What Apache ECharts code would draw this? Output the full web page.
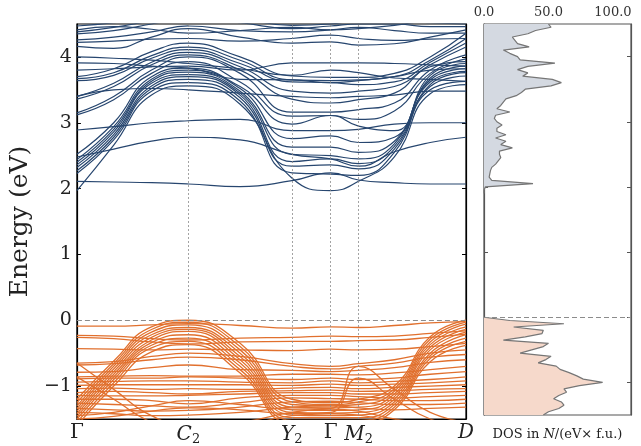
<!DOCTYPE html>
<html>
<head>
<meta charset="utf-8">
<script src="https://cdn.jsdelivr.net/npm/echarts@6/dist/echarts.min.js"></script>
<style>
  html, body { margin: 0; padding: 0; background: #fff; }
  #band-dos { width: 641px; height: 446px; }
</style>
</head>
<body>
<div id="band-dos"></div>
<script>
// k-path sample positions (path length units) and the high-symmetry points
let kPoints = [0, 0.37, 0.75, 1.12, 1.64, 2.16, 2.55, 2.83, 3.19, 3.55, 3.91];
let kTicks = [0, 1.12, 2.16, 2.55, 2.83, 3.91];
let kLabels = ['Γ', 'C_2', 'Y_2', 'Γ', 'M_2', 'D'];
let energyTicks = [-1, 0, 1, 2, 3, 4];
let dosTicks = [0, 50, 100];

// conduction bands, energy (eV) at each kPoints entry
let conductionBands = [
  [1.97, 2.66, 3.42, 3.56, 3.28, 2.16, 1.97, 2.11, 2.48, 3.44, 3.58],
  [2.11, 2.10, 2.09, 2.07, 2.03, 2.12, 2.24, 2.13, 2.09, 2.07, 2.07],
  [2.23, 2.74, 3.48, 3.61, 3.33, 2.24, 2.22, 2.20, 2.55, 3.50, 3.63],
  [2.27, 2.78, 3.52, 3.66, 3.38, 2.34, 2.36, 2.30, 2.60, 3.55, 3.71],
  [2.32, 2.82, 3.56, 3.70, 3.42, 2.41, 2.45, 2.38, 2.64, 3.58, 3.76],
  [2.36, 2.86, 3.60, 3.73, 3.45, 2.52, 2.50, 2.45, 2.68, 3.62, 3.78],
  [2.40, 2.90, 3.63, 3.77, 3.48, 2.63, 2.63, 2.55, 2.72, 3.65, 3.82],
  [2.44, 2.94, 3.66, 3.80, 3.52, 2.76, 2.80, 2.70, 2.78, 3.68, 3.86],
  [2.48, 2.60, 2.72, 2.78, 2.74, 2.52, 2.45, 2.34, 2.56, 2.70, 2.78],
  [2.89, 2.94, 3.00, 3.03, 3.05, 2.88, 2.88, 2.90, 2.98, 3.00, 3.00],
  [2.52, 3.00, 3.70, 3.83, 3.55, 2.98, 3.11, 2.95, 2.88, 3.72, 3.90],
  [3.12, 3.35, 3.75, 3.93, 3.62, 3.10, 3.11, 3.05, 3.18, 3.75, 3.97],
  [3.15, 3.40, 3.80, 4.00, 3.75, 3.16, 3.16, 3.20, 3.30, 3.80, 4.03],
  [3.36, 3.55, 3.88, 4.03, 3.80, 3.36, 3.30, 3.35, 3.45, 3.85, 3.93],
  [3.40, 3.60, 3.92, 4.07, 3.85, 3.48, 3.45, 3.48, 3.55, 3.88, 4.15],
  [3.64, 3.72, 3.98, 4.11, 3.90, 3.62, 3.61, 3.58, 3.62, 3.92, 4.21],
  [3.67, 3.76, 4.02, 4.15, 3.95, 3.65, 3.64, 3.65, 3.70, 3.95, 4.28],
  [3.70, 3.82, 4.08, 4.21, 4.00, 3.71, 3.69, 3.69, 3.75, 4.00, 4.36],
  [3.80, 3.82, 3.85, 3.86, 3.80, 3.91, 3.91, 3.91, 3.90, 3.88, 3.86],
  [3.91, 3.90, 3.86, 3.83, 3.66, 3.65, 3.61, 3.64, 3.70, 3.80, 3.82],
  [4.00, 3.98, 3.95, 3.90, 3.82, 3.72, 3.80, 3.76, 3.68, 3.66, 3.63],
  [4.16, 4.13, 4.30, 4.43, 4.30, 4.21, 4.23, 4.18, 4.20, 4.30, 4.41],
  [4.22, 4.24, 4.27, 4.28, 4.24, 4.28, 4.33, 4.28, 4.25, 4.27, 4.28],
  [4.26, 4.30, 4.38, 4.47, 4.40, 4.38, 4.41, 4.45, 4.40, 4.36, 4.36],
  [4.35, 4.40, 4.50, 4.60, 4.52, 4.43, 4.47, 4.50, 4.50, 4.46, 4.46],
  [4.38, 4.45, 4.55, 4.65, 4.58, 4.48, 4.50, 4.55, 4.55, 4.52, 4.50],
  [4.41, 4.46, 4.42, 4.36, 4.40, 4.45, 4.41, 4.43, 4.48, 4.56, 4.60],
  [4.47, 4.52, 4.60, 4.65, 4.60, 4.55, 4.52, 4.56, 4.60, 4.65, 4.70],
  [3.40, 3.50, 3.52, 3.50, 3.45, 3.40, 3.38, 3.40, 3.42, 3.48, 3.48]
];

// valence bands
let valenceBands = [
  [-0.09, -0.09, -0.07, -0.05, -0.08, -0.12, -0.10, -0.11, -0.08, -0.04, -0.02],
  [-1.20, -0.62, -0.10, 0.00, -0.35, -1.20, -1.25, -1.20, -1.00, -0.25, 0.00],
  [-1.25, -0.66, -0.14, -0.03, -0.40, -1.24, -1.28, -1.24, -1.04, -0.29, -0.03],
  [-1.30, -0.70, -0.18, -0.07, -0.45, -1.28, -1.30, -1.28, -1.08, -0.33, -0.06],
  [-1.34, -0.74, -0.22, -0.11, -0.50, -1.32, -1.33, -1.32, -1.12, -0.37, -0.10],
  [-1.38, -0.78, -0.26, -0.14, -0.55, -1.36, -1.37, -1.36, -1.16, -0.41, -0.14],
  [-1.42, -0.82, -0.30, -0.17, -0.60, -1.40, -1.41, -1.40, -1.20, -0.45, -0.18],
  [-1.46, -0.86, -0.34, -0.22, -0.65, -1.44, -1.45, -1.44, -1.24, -0.50, -0.22],
  [-1.50, -0.90, -0.38, -0.27, -0.70, -1.48, -1.48, -1.48, -1.28, -0.54, -0.27],
  [-1.55, -0.95, -0.42, -0.32, -0.75, -1.52, -1.52, -1.52, -1.32, -0.58, -0.32],
  [-1.60, -1.00, -0.48, -0.37, -0.80, -1.56, -1.56, -1.56, -1.36, -0.63, -0.38],
  [-0.23, -0.24, -0.28, -0.30, -0.27, -0.26, -0.24, -0.25, -0.24, -0.20, -0.16],
  [-0.26, -0.28, -0.33, -0.36, -0.33, -0.32, -0.32, -0.31, -0.30, -0.26, -0.21],
  [-0.43, -0.44, -0.45, -0.44, -0.45, -0.46, -0.44, -0.45, -0.44, -0.40, -0.35],
  [-0.65, -0.63, -0.55, -0.50, -0.55, -0.66, -0.70, -0.66, -0.60, -0.50, -0.45],
  [-0.68, -0.66, -0.60, -0.56, -0.60, -0.70, -0.74, -0.70, -0.65, -0.56, -0.52],
  [-0.79, -0.78, -0.72, -0.68, -0.75, -0.76, -0.78, -0.76, -0.72, -0.64, -0.60],
  [-0.86, -0.85, -0.84, -0.85, -0.85, -0.82, -0.82, -0.83, -0.80, -0.75, -0.70],
  [-0.89, -0.88, -0.88, -0.86, -0.88, -0.90, -0.88, -0.90, -0.88, -0.82, -0.78],
  [-0.94, -0.93, -0.92, -0.92, -0.94, -0.95, -0.92, -0.95, -0.93, -0.90, -0.86],
  [-0.99, -0.98, -0.98, -0.98, -0.98, -0.99, -0.97, -0.99, -0.97, -0.95, -0.92],
  [-1.04, -1.03, -1.05, -1.04, -1.05, -1.03, -1.02, -1.04, -1.02, -1.00, -0.98],
  [-1.10, -1.08, -1.10, -1.12, -1.08, -1.07, -1.06, -1.08, -1.07, -1.05, -1.04],
  [-1.14, -1.15, -1.15, -1.14, -1.12, -1.10, -1.10, -1.12, -1.12, -1.10, -1.08],
  [-1.20, -1.20, -1.22, -1.27, -1.18, -1.14, -1.14, -1.16, -1.18, -1.16, -1.14],
  [-1.26, -1.28, -1.30, -1.32, -1.25, -1.18, -1.19, -1.20, -1.22, -1.22, -1.20],
  [-1.34, -1.36, -1.38, -1.37, -1.32, -1.24, -1.23, -1.25, -1.28, -1.28, -1.26],
  [-1.40, -1.42, -1.45, -1.44, -1.40, -1.32, -1.30, -1.33, -1.36, -1.34, -1.32],
  [-0.65, -1.05, -1.45, -1.60, -1.55, -1.40, -1.35, -1.38, -1.50, -1.55, -1.55],
  [-0.86, -1.20, -1.55, -1.70, -1.62, -1.45, -1.42, -1.44, -1.55, -1.62, -1.62],
  [-1.45, -1.40, -1.30, -1.22, -1.28, -1.35, -1.34, -0.70, -1.05, -1.40, -1.55],
  [-1.50, -1.46, -1.38, -1.33, -1.36, -1.42, -1.40, -0.88, -1.20, -1.50, -1.62]
];

// DOS on a 0.05 eV grid: valence from -1.50 to 0.00, conduction from 1.90 to 4.50
let dosValence = [46, 50, 58, 62, 60, 54, 58, 64, 62, 74, 92, 77, 72, 66, 59, 56,
  42, 48, 52, 28, 37, 46, 50, 15, 32, 45, 46, 23, 62, 20, 0];
let dosConduction = [0, 0, 1, 38, 6, 4, 4.5, 5, 6, 9, 11, 13, 12, 12, 22, 13, 17, 9,
  17, 10, 10, 14, 10, 8, 9, 20, 10, 13, 15, 17, 25, 29, 32, 52, 60, 53, 30, 34, 26,
  34, 55, 28, 26, 20, 15, 35, 26, 24, 22, 34, 40, 52, 50];

let dosEnergies = [];
for (let i = 0; i <= 120; i++) {
  dosEnergies.push(((-150 + i * 5) / 100).toFixed(2));
}
let condStart = dosEnergies.indexOf('1.90');

let serif = 'DejaVu Serif';
let myChart = echarts.init(document.getElementById('band-dos'));

function bandSeries(bands, color, width) {
  return bands.map(function (band) {
    return {
      type: 'line',
      xAxisIndex: 0,
      yAxisIndex: 0,
      data: band.map(function (e, i) { return [kPoints[i], e]; }),
      smooth: 0.5,
      symbol: 'none',
      silent: true,
      lineStyle: { color: color, width: width }
    };
  });
}

let series = [];
// guide lines first so the bands sit on top
series.push({
  type: 'line',
  xAxisIndex: 0,
  yAxisIndex: 0,
  data: [],
  silent: true,
  markLine: {
    symbol: 'none',
    silent: true,
    animation: false,
    label: { show: false },
    data: kTicks.slice(1, 5).map(function (k) {
      return { xAxis: k, lineStyle: { color: '#8c8c8c', type: [2, 2], width: 0.8 } };
    }).concat([{ yAxis: 0, lineStyle: { color: '#8c8c8c', type: [5, 3], width: 1 } }])
  }
});
series = series.concat(bandSeries(conductionBands, '#27466f', 1.2));
series = series.concat(bandSeries(valenceBands, '#e1702e', 1.3));

series.push({
  type: 'line',
  xAxisIndex: 1,
  yAxisIndex: 2,
  data: dosEnergies.map(function (e, i) { return i < dosValence.length ? dosValence[i] : null; }),
  symbol: 'none',
  silent: true,
  lineStyle: { color: '#767676', width: 1.2 },
  areaStyle: { color: '#f6d9cb', opacity: 1 },
  markLine: {
    symbol: 'none',
    silent: true,
    label: { show: false },
    data: [{ yAxis: '0.00', lineStyle: { color: '#8c8c8c', type: [5, 3], width: 1 } }]
  }
});
series.push({
  type: 'line',
  xAxisIndex: 1,
  yAxisIndex: 2,
  data: dosEnergies.map(function (e, i) { return i >= condStart ? dosConduction[i - condStart] : null; }),
  symbol: 'none',
  silent: true,
  lineStyle: { color: '#767676', width: 1.2 },
  areaStyle: { color: '#d4d9e1', opacity: 1 }
});

let integerTick = function (idx, val) { return Number(val) % 1 === 0; };

let option = {
  animation: false,
  grid: [
    { left: 75, top: 24, width: 391, height: 399, show: true, borderColor: '#000', borderWidth: 1.2 },
    { left: 484, top: 24, width: 147, height: 399, show: true, borderColor: '#555', borderWidth: 1.2 }
  ],
  xAxis: [
    {
      gridIndex: 0, type: 'value', min: 0, max: 3.91,
      splitLine: { show: false },
      axisLine: { onZero: false, lineStyle: { color: '#000', width: 1.2 } },
      axisTick: { show: false },
      axisLabel: {
        customValues: kTicks,
        margin: 4,
        formatter: function (v) {
          let name = kLabels[kTicks.indexOf(v)];
          if (name === 'Γ') return '{g|Γ}';
          if (name.indexOf('_') > 0) return '{i|' + name[0] + '}{s|' + name[2] + '}';
          return '{i|' + name + '}';
        },
        rich: {
          g: { fontFamily: serif, fontSize: 20, color: '#222' },
          i: { fontFamily: serif, fontStyle: 'italic', fontSize: 20, color: '#222' },
          s: { fontFamily: serif, fontSize: 13, color: '#222', verticalAlign: 'bottom', padding: [10, 0, 0, 0] }
        }
      }
    },
    {
      gridIndex: 1, type: 'value', position: 'top', min: 0, max: 114,
      splitLine: { show: false },
      axisLine: { onZero: false, lineStyle: { color: '#555', width: 1.2 } },
      axisTick: { customValues: dosTicks, inside: true, length: 4, lineStyle: { color: '#555' } },
      axisLabel: {
        customValues: dosTicks,
        margin: 5,
        fontFamily: serif, fontSize: 13, color: '#333',
        formatter: function (v) { return v.toFixed(1); }
      }
    },
    {
      gridIndex: 1, type: 'value', position: 'bottom', min: 0, max: 114,
      splitLine: { show: false },
      axisLine: { onZero: false, lineStyle: { color: '#555', width: 1.2 } },
      axisTick: { show: false },
      axisLabel: { show: false },
      name: 'DOS in {i|N}/(eV× f.u.)',
      nameLocation: 'middle',
      nameGap: 13,
      nameTextStyle: {
        fontFamily: serif, fontSize: 13, color: '#222',
        rich: { i: { fontFamily: serif, fontStyle: 'italic', fontSize: 13, color: '#222' } }
      }
    }
  ],
  yAxis: [
    {
      gridIndex: 0, type: 'value', min: -1.5, max: 4.5,
      splitLine: { show: false },
      axisLine: { onZero: false, lineStyle: { color: '#000', width: 1.2 } },
      axisTick: { customValues: energyTicks, inside: true, length: 4, lineStyle: { color: '#000' } },
      axisLabel: {
        customValues: energyTicks,
        margin: 5,
        fontFamily: serif, fontSize: 19, color: '#222',
        formatter: function (v) { return v < 0 ? '\u2212' + Math.abs(v) : String(v); }
      },
      name: 'Energy (eV)',
      nameLocation: 'middle',
      nameGap: 30,
      nameRotate: 90,
      nameTextStyle: { fontFamily: serif, fontSize: 25, color: '#222' }
    },
    {
      gridIndex: 0, type: 'value', position: 'right', min: -1.5, max: 4.5,
      splitLine: { show: false },
      axisLine: { onZero: false, lineStyle: { color: '#000', width: 1.2 } },
      axisTick: { customValues: energyTicks, inside: true, length: 4, lineStyle: { color: '#000' } },
      axisLabel: { show: false }
    },
    {
      gridIndex: 1, type: 'category', data: dosEnergies, boundaryGap: false,
      axisLine: { onZero: false, lineStyle: { color: '#555', width: 1.2 } },
      axisTick: { interval: integerTick, inside: true, length: 4, lineStyle: { color: '#555' } },
      axisLabel: { show: false },
      splitLine: { show: false }
    },
    {
      gridIndex: 1, type: 'category', position: 'right', data: dosEnergies, boundaryGap: false,
      axisLine: { onZero: false, lineStyle: { color: '#555', width: 1.2 } },
      axisTick: { interval: integerTick, inside: true, length: 4, lineStyle: { color: '#555' } },
      axisLabel: { show: false },
      splitLine: { show: false }
    }
  ],
  series: series
};

myChart.setOption(option);
</script>
</body>
</html>
